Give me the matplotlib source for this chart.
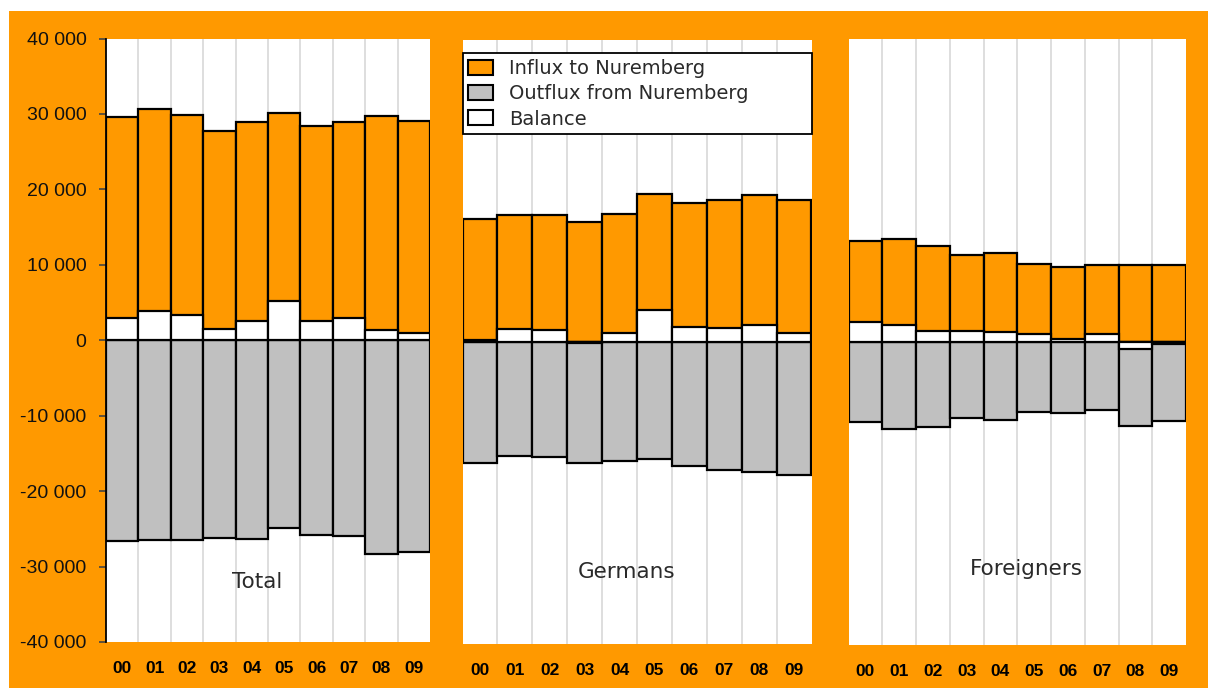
import numpy as np
import matplotlib
matplotlib.use("Agg")
import matplotlib.pyplot as plt
from matplotlib.patches import Patch, Rectangle

# migration data for Nuremberg, 2000-2009
years = ['00', '01', '02', '03', '04', '05', '06', '07', '08', '09']

total_in = [29600, 30700, 29800, 27700, 28900, 30100, 28400, 28900, 29700, 29100]
total_out = [-26600, -26500, -26500, -26200, -26350, -24900, -25800, -26000, -28400, -28100]
total_bal = [3000, 3900, 3300, 1500, 2550, 5200, 2600, 2900, 1300, 1000]

german_in = [16250, 16850, 16850, 15900, 17000, 19650, 18400, 18750, 19450, 18750]
german_out = [-16050, -15150, -15250, -16050, -15800, -15450, -16400, -16950, -17250, -17600]
german_bal = [200, 1700, 1600, -150, 1200, 4200, 2000, 1800, 2200, 1150]

foreign_in = [13250, 13600, 12650, 11500, 11750, 10300, 9800, 10100, 10100, 10100]
foreign_out = [-10650, -11450, -11200, -10050, -10350, -9250, -9450, -9050, -11100, -10450]
foreign_bal = [2600, 2200, 1450, 1450, 1350, 1000, 350, 1050, -1000, -350]

panels = [
    ("Total", total_in, total_out, total_bal),
    ("Germans", german_in, german_out, german_bal),
    ("Foreigners", foreign_in, foreign_out, foreign_bal),
]

ORANGE = '#FF9900'
GREY = '#C0C0C0'

W, H = 1208, 688
fig = plt.figure(figsize=(W / 100, H / 100), dpi=100)
fig.patch.set_facecolor('white')
# orange frame behind the panels
fig.patches.append(Rectangle((9 / W, 0), 1 - 9 / W, 1 - 11 / H, transform=fig.transFigure,
                             facecolor=ORANGE, edgecolor='none', zorder=-5))

# panel boxes in pixels: left, top, right, bottom
boxes = [(106, 38.5, 430, 642), (462.5, 40, 811.5, 644), (848.5, 38.5, 1186, 645)]
label_pos = [(0.466, 0.10), (0.47, 0.12), (0.526, 0.126)]

x = np.arange(len(years))
axes = []
for i, (name, inflow, outflow, bal) in enumerate(panels):
    l, t, r, b = boxes[i]
    ax = fig.add_axes([l / W, (H - b) / H, (r - l) / W, (b - t) / H])
    ax.set_zorder(1)
    ax.set_facecolor('white')
    for xv in x[:-1]:
        ax.axvline(xv + 0.5, color='#D8D8D8', lw=1.2, zorder=1)

    ax.bar(x, inflow, width=1.0, color=ORANGE, edgecolor='black', linewidth=1.6, zorder=2)
    ax.bar(x, outflow, width=1.0, color=GREY, edgecolor='black', linewidth=1.6, zorder=2)
    ax.bar(x, bal, width=1.0, color='white', edgecolor='black', linewidth=1.6, zorder=3)

    ax.set_xlim(-0.5, len(years) - 0.5)
    ax.set_ylim(-40000, 40000)
    ax.set_xticks(x)
    ax.set_xticklabels(years, fontfamily='Liberation Sans', fontweight='bold', fontsize=12.5)
    ax.tick_params(axis='x', length=0, pad=14)

    for s in ['top', 'right', 'bottom']:
        ax.spines[s].set_visible(False)
    if i == 0:
        ax.spines['left'].set_color('black')
        ax.spines['left'].set_linewidth(1.3)
        yt = np.arange(-40000, 40001, 10000)
        ax.set_yticks(yt)
        ax.set_yticklabels([f"{v:,}".replace(',', ' ') for v in yt],
                           fontfamily='Liberation Sans', fontsize=14, color='#111111')
        ax.tick_params(axis='y', length=5, width=1.2, pad=9, color='#444444')
    else:
        ax.spines['left'].set_visible(False)
        ax.set_yticks([])

    lx, ly = label_pos[i]
    ax.text(lx, ly, name, transform=ax.transAxes, ha='center', va='center',
            fontfamily='DejaVu Sans', fontsize=15.5, color='#2a2a2a', zorder=5)
    axes.append(ax)

handles = [
    Patch(facecolor=ORANGE, edgecolor='black', linewidth=1.5, label='Influx to Nuremberg'),
    Patch(facecolor=GREY, edgecolor='black', linewidth=1.5, label='Outflux from Nuremberg'),
    Patch(facecolor='white', edgecolor='black', linewidth=1.5, label='Balance'),
]
leg = axes[1].legend(handles=handles, loc='upper left', bbox_to_anchor=(0, 0.844, 1, 0.134),
                     mode='expand', borderaxespad=0, fancybox=False, framealpha=1,
                     edgecolor='black', prop={'family': 'DejaVu Sans', 'size': 14},
                     handlelength=1.25, handleheight=0.8, handletextpad=0.85,
                     labelspacing=0.32, borderpad=0.3)
for txt in leg.get_texts():
    txt.set_color('#2a2a2a')
leg.get_frame().set_linewidth(1.3)
leg.set_zorder(10)

plt.savefig("out.png", dpi=100, facecolor=fig.get_facecolor())
